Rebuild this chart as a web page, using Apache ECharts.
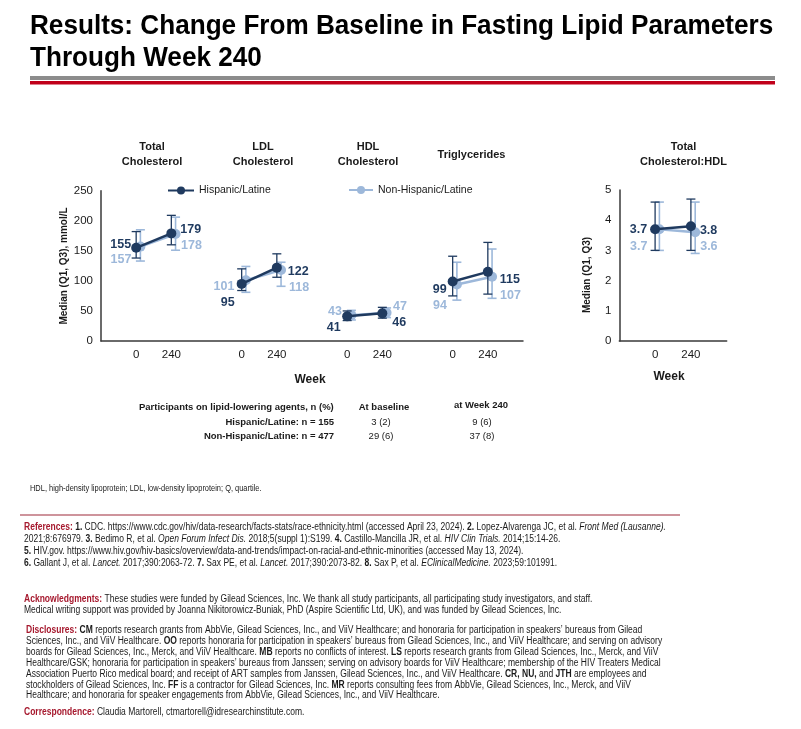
<!DOCTYPE html>
<html><head><meta charset="utf-8">
<script src="https://cdn.jsdelivr.net/npm/echarts@6/dist/echarts.min.js"></script>
<style>html,body{margin:0;padding:0;background:#fff}#c{width:801px;height:729px}</style>
</head><body><div id="c"></div>
<script>
// ---------- DATA ----------
const groups = ['Total\nCholesterol', 'LDL\nCholesterol', 'HDL\nCholesterol', 'Triglycerides'];
const ratioTitle = 'Total\nCholesterol:HDL';
const weeks = ['0', '240'];
const seriesNames = ['Hispanic/Latine', 'Non-Hispanic/Latine'];

// lipid panel medians / quartiles, [week 0, week 240] per group
const hispMedian    = [[155, 179], [95, 122], [41, 46], [99, 115]];
const hispQ1        = [[138, 160], [84, 106], [34, 38], [75, 78]];
const hispQ3        = [[182, 209], [120, 145], [50, 56], [141, 164]];
const nonHispMedian = [[157, 178], [101, 118], [43, 47], [94, 107]];
const nonHispQ1     = [[133, 151], [81, 91], [35, 39], [68, 71]];
const nonHispQ3     = [[185, 206], [124, 131], [51, 55], [131, 153]];

// total cholesterol : HDL ratio
const ratioHispMedian    = [3.7, 3.8];
const ratioHispQ1        = [3.0, 3.0];
const ratioHispQ3        = [4.6, 4.7];
const ratioNonHispMedian = [3.7, 3.6];
const ratioNonHispQ1     = [3.0, 2.9];
const ratioNonHispQ3     = [4.6, 4.6];

const yTicksLipid = [0, 250, 50];
const yTicksRatio = [0, 5, 1];

// table
const tableHeader = ['Participants on lipid-lowering agents, n (%)', 'At baseline', 'at Week 240'];
const tableRows = ['Hispanic/Latine: n = 155', 'Non-Hispanic/Latine: n = 477'];
const agentsBaseline = ['3 (2)', '29 (6)'];
const agentsWeek240 = ['9 (6)', '37 (8)'];

// ---------- STYLE ----------
const FONT = '"Liberation Sans", Arial, Helvetica, sans-serif';
const DARK = '#1f3a5f';
const LIGHT = '#9db8da';
const AXIS = '#3a3a3a';
const TXT = '#1a1a1a';
const RED = '#a6192e';
const OFF = 0.12; // horizontal dodge of non-Hispanic points
// label placement [position, dx, dy] per population / group / week
const lipidLabelPos = [
  [[['left', 3, -3], ['right', 1, -4]], [['left', 1, 19], ['right', 3, 4]], [['left', 1.5, 11], ['right', 2, 9]], [['left', 2, 8.5], ['right', 4, 8]]],
  [[['left', -1, 13], ['right', -2.5, 12]], [['left', -3.5, 6], ['right', 0, 17.5]], [['left', -1.5, -3.5], ['right', -1.5, -6]], [['left', -2, 21], ['right', 0, 19]]]
];
const ratioLabelPos = [
  [['left', 0, 0], ['right', 1, 4]],
  [['left', -4, 17], ['right', -3, 14]]
];
const titleX = [152, 263, 368, 471.5];

const chart = echarts.init(document.getElementById('c'), null, {renderer: 'canvas'});

function xPos(g, w, off) { return 1 + 3 * g + w + off; }

const series = [];
const pops = [
  {med: hispMedian, q1: hispQ1, q3: hispQ3, rm: ratioHispMedian, rq1: ratioHispQ1, rq3: ratioHispQ3, color: DARK, off: 0, z: 6, ez: 5},
  {med: nonHispMedian, q1: nonHispQ1, q3: nonHispQ3, rm: ratioNonHispMedian, rq1: ratioNonHispQ1, rq3: ratioNonHispQ3, color: LIGHT, off: OFF, z: 4, ez: 3}
];

function errRender(color, lw) {
  return function (params, api) {
    const x = api.value(0);
    const lo = api.coord([x, api.value(1)]);
    const hi = api.coord([x, api.value(2)]);
    const hw = 4.5;
    const st = {stroke: color, lineWidth: lw};
    return {type: 'group', children: [
      {type: 'line', shape: {x1: lo[0], y1: lo[1], x2: hi[0], y2: hi[1]}, style: st},
      {type: 'line', shape: {x1: hi[0] - hw, y1: hi[1], x2: hi[0] + hw, y2: hi[1]}, style: st},
      {type: 'line', shape: {x1: lo[0] - hw, y1: lo[1], x2: lo[0] + hw, y2: lo[1]}, style: st}
    ]};
  };
}

function lineSeries(name, gridIdx, data, color, z) {
  return {
    type: 'line', name: name, xAxisIndex: gridIdx, yAxisIndex: gridIdx,
    data: data, symbol: 'circle', symbolSize: 10, z: z,
    lineStyle: {color: color, width: 2.5}, itemStyle: {color: color},
    label: {show: true, distance: 3, fontFamily: FONT, fontWeight: 'bold', fontSize: 12.5, color: color,
      formatter: p => String(p.value[1])},
    emphasis: {disabled: true}, animation: false
  };
}

// draw light (non-Hispanic) first, dark on top
[1, 0].forEach(p => {
  const P = pops[p];
  groups.forEach((_, g) => {
    const data = [0, 1].map(w => {
      const lp = lipidLabelPos[p][g][w];
      return {value: [xPos(g, w, P.off), P.med[g][w]], label: {position: lp[0], offset: [lp[1], lp[2]]}};
    });
    series.push(lineSeries(seriesNames[p], 0, data, P.color, P.z));
  });
  const rdata = [0, 1].map(w => {
    const lp = ratioLabelPos[p][w];
    return {value: [1 + w + P.off, P.rm[w]], label: {position: lp[0], offset: [lp[1], lp[2]]}};
  });
  series.push(lineSeries(seriesNames[p], 1, rdata, P.color, P.z));
});
[1, 0].forEach(p => {
  const P = pops[p];
  const lw = p === 0 ? 1.3 : 1.6;
  const edata = [];
  groups.forEach((_, g) => [0, 1].forEach(w => edata.push([xPos(g, w, P.off), P.q1[g][w], P.q3[g][w]])));
  series.push({type: 'custom', name: seriesNames[p] + ' IQR', xAxisIndex: 0, yAxisIndex: 0, data: edata,
    encode: {x: 0, y: [1, 2]}, renderItem: errRender(P.color, lw), z: P.ez, silent: true, animation: false});
  const rdata = [0, 1].map(w => [1 + w + P.off, P.rq1[w], P.rq3[w]]);
  series.push({type: 'custom', name: seriesNames[p] + ' IQR', xAxisIndex: 1, yAxisIndex: 1, data: rdata,
    encode: {x: 0, y: [1, 2]}, renderItem: errRender(P.color, lw), z: P.ez, silent: true, animation: false});
});

const axisCommon = {
  axisLine: {show: true, onZero: false, lineStyle: {color: AXIS, width: 1.5}},
  axisTick: {show: false}, splitLine: {show: false}
};
const labelStyle = {fontFamily: FONT, fontSize: 11.5, color: TXT};

// ---------- GRAPHIC TEXT ----------
const g = [];
function txt(x, y, text, font, opts) {
  opts = opts || {};
  g.push({type: 'text', x: x, y: y, rotation: opts.rotation || 0, scaleX: opts.scaleX || 1,
    style: {text: text, font: font, fill: opts.fill || TXT, align: opts.align || 'left',
      verticalAlign: 'middle', lineHeight: opts.lineHeight, rich: opts.rich}, silent: true});
}
// title
txt(30, 26, 'Results: Change From Baseline in Fasting Lipid Parameters', 'bold 27.5px ' + FONT, {fill: '#000', scaleX: 0.95});
txt(30, 58, 'Through Week 240', 'bold 27.5px ' + FONT, {fill: '#000', scaleX: 0.95});
g.push({type: 'rect', shape: {x: 30, y: 76, width: 745, height: 4}, style: {fill: '#8c8c8c'}, silent: true});
g.push({type: 'rect', shape: {x: 30, y: 81, width: 745, height: 3.5}, style: {fill: '#c0001a'}, silent: true});
// panel titles
groups.forEach((t, i) => txt(titleX[i], 154.5, t, 'bold 11px ' + FONT, {align: 'center', lineHeight: 15}));
txt(683.5, 154.5, ratioTitle, 'bold 11px ' + FONT, {align: 'center', lineHeight: 15});
// axis names
txt(64, 266, 'Median (Q1, Q3), mmol/L', 'bold 10px ' + FONT, {align: 'center', rotation: Math.PI / 2});
txt(587, 275, 'Median (Q1, Q3)', 'bold 10px ' + FONT, {align: 'center', rotation: Math.PI / 2});
txt(310, 380, 'Week', 'bold 12px ' + FONT, {align: 'center'});
txt(669, 377, 'Week', 'bold 12px ' + FONT, {align: 'center'});
// table
txt(139, 407, tableHeader[0], 'bold 9.5px ' + FONT);
txt(384, 407, tableHeader[1], 'bold 9.5px ' + FONT, {align: 'center'});
txt(481, 405, tableHeader[2], 'bold 9.5px ' + FONT, {align: 'center'});
tableRows.forEach((r, i) => {
  const y = 422 + i * 14;
  txt(334, y, r, 'bold 9.5px ' + FONT, {align: 'right'});
  txt(381, y, agentsBaseline[i], '9.5px ' + FONT, {align: 'center'});
  txt(482, y, agentsWeek240[i], '9.5px ' + FONT, {align: 'center'});
});
// footnote
txt(30, 489, 'HDL, high-density lipoprotein; LDL, low-density lipoprotein; Q, quartile.', '8.5px ' + FONT, {scaleX: 0.875});
g.push({type: 'line', shape: {x1: 20, y1: 515, x2: 680, y2: 515}, style: {stroke: '#9e2a3a', lineWidth: 1.2}, silent: true});

const BS = 10, SX = 0.852;
const rich = {
  r: {fontFamily: FONT, fontSize: BS, fontWeight: 'bold', fill: RED},
  b: {fontFamily: FONT, fontSize: BS, fontWeight: 'bold', fill: TXT},
  i: {fontFamily: FONT, fontSize: BS, fontStyle: 'italic', fill: TXT}
};
function body(x, y, text) { txt(x, y, text, BS + 'px ' + FONT, {scaleX: SX, rich: rich}); }
const refLines = [
  '{r|References:} {b|1.} CDC. https://www.cdc.gov/hiv/data-research/facts-stats/race-ethnicity.html (accessed April 23, 2024). {b|2.} Lopez-Alvarenga JC, et al. {i|Front Med (Lausanne).}',
  '2021;8:676979. {b|3.} Bedimo R, et al. {i|Open Forum Infect Dis.} 2018;5(suppl 1):S199. {b|4.} Castillo-Mancilla JR, et al. {i|HIV Clin Trials.} 2014;15:14-26.',
  '{b|5.} HIV.gov. https://www.hiv.gov/hiv-basics/overview/data-and-trends/impact-on-racial-and-ethnic-minorities (accessed May 13, 2024).',
  '{b|6.} Gallant J, et al. {i|Lancet.} 2017;390:2063-72. {b|7.} Sax PE, et al. {i|Lancet.} 2017;390:2073-82. {b|8.} Sax P, et al. {i|EClinicalMedicine.} 2023;59:101991.'
];
refLines.forEach((l, i) => body(24, 527.5 + i * 12, l));
const ackLines = [
  '{r|Acknowledgments:} These studies were funded by Gilead Sciences, Inc. We thank all study participants, all participating study investigators, and staff.',
  'Medical writing support was provided by Joanna Nikitorowicz-Buniak, PhD (Aspire Scientific Ltd, UK), and was funded by Gilead Sciences, Inc.'
];
ackLines.forEach((l, i) => body(24, 599.5 + i * 11, l));
const discLines = [
  '{r|Disclosures:} {b|CM} reports research grants from AbbVie, Gilead Sciences, Inc., and ViiV Healthcare; and honoraria for participation in speakers\u2019 bureaus from Gilead',
  'Sciences, Inc., and ViiV Healthcare. {b|OO} reports honoraria for participation in speakers\u2019 bureaus from Gilead Sciences, Inc., and ViiV Healthcare; and serving on advisory',
  'boards for Gilead Sciences, Inc., Merck, and ViiV Healthcare. {b|MB} reports no conflicts of interest. {b|LS} reports research grants from Gilead Sciences, Inc., Merck, and ViiV',
  'Healthcare/GSK; honoraria for participation in speakers\u2019 bureaus from Janssen; serving on advisory boards for ViiV Healthcare; membership of the HIV Treaters Medical',
  'Association Puerto Rico medical board; and receipt of ART samples from Janssen, Gilead Sciences, Inc., and ViiV Healthcare. {b|CR, NU,} and {b|JTH} are employees and',
  'stockholders of Gilead Sciences, Inc. {b|FF} is a contractor for Gilead Sciences, Inc. {b|MR} reports consulting fees from AbbVie, Gilead Sciences, Inc., Merck, and ViiV',
  'Healthcare; and honoraria for speaker engagements from AbbVie, Gilead Sciences, Inc., and ViiV Healthcare.'
];
discLines.forEach((l, i) => body(26, 630.5 + i * 10.85, l));
body(24, 712, '{r|Correspondence:} Claudia Martorell, ctmartorell@idresearchinstitute.com.');

const option = {
  backgroundColor: '#fff',
  animation: false,
  textStyle: {fontFamily: FONT},
  legend: [
    {data: [seriesNames[0]], left: 167, top: 185, padding: 0, itemWidth: 26, itemHeight: 10, itemGap: 5, selectedMode: false,
      textStyle: {fontFamily: FONT, fontSize: 10.5, color: TXT}},
    {data: [seriesNames[1]], left: 348, top: 184.5, padding: 0, itemWidth: 24, itemHeight: 10, itemGap: 5, selectedMode: false,
      textStyle: {fontFamily: FONT, fontSize: 10.5, color: TXT}}
  ],
  grid: [
    {left: 101, top: 190.7, width: 422, height: 150.3, outerBoundsMode: 'none'},
    {left: 619.3, top: 190, width: 107.4, height: 151, outerBoundsMode: 'none'}
  ],
  xAxis: [
    Object.assign({gridIndex: 0, type: 'value', min: 0, max: 12, interval: 1,
      axisLabel: Object.assign({margin: 8, formatter: v => (v % 3 === 1 ? weeks[0] : v % 3 === 2 ? weeks[1] : '')}, labelStyle)}, axisCommon),
    Object.assign({gridIndex: 1, type: 'value', min: 0, max: 3, interval: 1,
      axisLabel: Object.assign({margin: 8, formatter: v => (v === 1 ? weeks[0] : v === 2 ? weeks[1] : '')}, labelStyle)}, axisCommon)
  ],
  yAxis: [
    Object.assign({gridIndex: 0, type: 'value', min: yTicksLipid[0], max: yTicksLipid[1], interval: yTicksLipid[2],
      axisLabel: Object.assign({margin: 8}, labelStyle)}, axisCommon),
    Object.assign({gridIndex: 1, type: 'value', min: yTicksRatio[0], max: yTicksRatio[1], interval: yTicksRatio[2],
      axisLabel: Object.assign({margin: 8}, labelStyle)}, axisCommon)
  ],
  series: series,
  graphic: {elements: g}
};
chart.setOption(option);
</script></body></html>
